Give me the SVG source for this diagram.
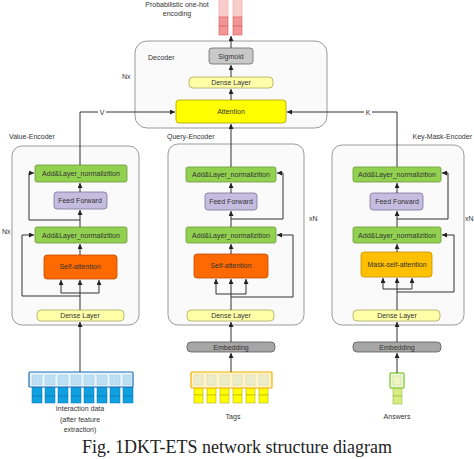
<svg xmlns="http://www.w3.org/2000/svg" width="474" height="459" viewBox="0 0 474 459">
<defs>
<marker id="ah" viewBox="0 0 10 10" refX="10" refY="5" markerWidth="5" markerHeight="5" orient="auto" markerUnits="userSpaceOnUse"><path d="M0,0 L10,5 L0,10 z" fill="#222"/></marker>
<style>
text{font-family:"Liberation Sans",Arial,sans-serif;font-size:7px;fill:#333}
.c{text-anchor:middle}
.enc{fill:#fafafa;stroke:#9a9a9a;stroke-width:1}
.add{fill:#92d050;stroke:#6a9a3a;stroke-width:0.8}
.ff{fill:#c5bde0;stroke:#7a7399;stroke-width:0.8}
.sa{fill:#ff6a00;stroke:#c04a00;stroke-width:0.8}
.msa{fill:#ffc000;stroke:#c89000;stroke-width:0.8}
.dl{fill:#ffffa8;stroke:#a8a860;stroke-width:0.8}
.emb{fill:#a6a6a6;stroke:#5a5a5a;stroke-width:0.8}
.ln{fill:none;stroke:#333;stroke-width:1}
.ar{fill:none;stroke:#333;stroke-width:1;marker-end:url(#ah)}
</style>
</defs>
<rect width="474" height="459" fill="#fff"/>

<g id="output">
<text class="c" x="177" y="7">Probabilistic one-hot</text>
<text class="c" x="177" y="16">encoding</text>
<rect x="219" y="-2" width="9" height="19" fill="#f9cccc" stroke="#f0a0a0" stroke-width="0.6"/>
<rect x="233" y="-2" width="9" height="19" fill="#f9cccc" stroke="#f0a0a0" stroke-width="0.6"/>
<rect x="219" y="17" width="9" height="9" fill="#f19595" stroke="#d86060" stroke-width="0.6"/>
<rect x="219" y="26" width="9" height="9" fill="#f19595" stroke="#d86060" stroke-width="0.6"/>
<rect x="233" y="17" width="9" height="9" fill="#f19595" stroke="#d86060" stroke-width="0.6"/>
<rect x="233" y="26" width="9" height="9" fill="#f19595" stroke="#d86060" stroke-width="0.6"/>
</g>

<g id="decoder">
<rect class="enc" x="135" y="41" width="192" height="87" rx="12"/>
<text x="148" y="60">Decoder</text>
<text x="122" y="79">Nx</text>
<g id="sigmoid"><rect x="209" y="48" width="44" height="16" rx="3" fill="#c8c8c8" stroke="#6a6a6a" stroke-width="0.8"/><text class="c" x="231" y="59">Sigmoid</text></g>
<g id="dec-dense"><rect class="dl" x="189" y="77" width="84" height="11" rx="4"/><text class="c" x="231" y="85">Dense Layer</text></g>
<g id="attention"><rect x="176" y="100" width="110" height="23" rx="3" fill="#ffff00" stroke="#b0a000" stroke-width="0.8"/><text class="c" x="231" y="114">Attention</text></g>
</g>

<g id="value-encoder">
<text x="9" y="139">Value-Encoder</text>
<rect class="enc" x="12" y="146" width="127" height="179" rx="10"/>
<text x="2" y="234">Nx</text>
<g id="v-add1"><rect class="add" x="35" y="165" width="92" height="17" rx="2"/><text class="c" x="81" y="176">Add&amp;Layer_normalizition</text></g>
<g id="v-ff"><rect class="ff" x="54" y="192" width="53" height="17" rx="3"/><text class="c" x="80" y="203">Feed Forward</text></g>
<g id="v-add2"><rect class="add" x="35" y="227" width="92" height="16" rx="2"/><text class="c" x="81" y="238">Add&amp;Layer_normalizition</text></g>
<g id="v-sa"><rect class="sa" x="44" y="255" width="73" height="24" rx="3"/><text class="c" x="80" y="269">Self-attention</text></g>
<g id="v-dense"><rect class="dl" x="37" y="310" width="87" height="11" rx="4"/><text class="c" x="80" y="318">Dense Layer</text></g>
</g>

<g id="query-encoder">
<text x="167" y="139">Query-Encoder</text>
<rect class="enc" x="168" y="144" width="136" height="181" rx="10"/>
<text x="309" y="221">xN</text>
<g id="q-add1"><rect class="add" x="186" y="167" width="90" height="15" rx="2"/><text class="c" x="231" y="177">Add&amp;Layer_normalizition</text></g>
<g id="q-ff"><rect class="ff" x="205" y="193" width="52" height="17" rx="3"/><text class="c" x="231" y="204">Feed Forward</text></g>
<g id="q-add2"><rect class="add" x="186" y="227" width="90" height="16" rx="2"/><text class="c" x="231" y="238">Add&amp;Layer_normalizition</text></g>
<g id="q-sa"><rect class="sa" x="194" y="254" width="74" height="24" rx="3"/><text class="c" x="231" y="268">Self-attention</text></g>
<g id="q-dense"><rect class="dl" x="187" y="310" width="87" height="11" rx="4"/><text class="c" x="231" y="318">Dense Layer</text></g>
</g>

<g id="key-encoder">
<text x="472" y="139" style="text-anchor:end">Key-Mask-Encoder</text>
<rect class="enc" x="332" y="145" width="132" height="180" rx="10"/>
<text x="465" y="221">xN</text>
<g id="k-add1"><rect class="add" x="353" y="167" width="88" height="15" rx="2"/><text class="c" x="397" y="177">Add&amp;Layer_normalizition</text></g>
<g id="k-ff"><rect class="ff" x="370" y="193" width="53" height="17" rx="3"/><text class="c" x="397" y="204">Feed Forward</text></g>
<g id="k-add2"><rect class="add" x="353" y="227" width="88" height="16" rx="2"/><text class="c" x="397" y="238">Add&amp;Layer_normalizition</text></g>
<g id="k-msa"><rect class="msa" x="361" y="252" width="71" height="25" rx="3"/><text class="c" x="397" y="267">Mask-self-attention</text></g>
<g id="k-dense"><rect class="dl" x="353" y="310" width="87" height="11" rx="4"/><text class="c" x="397" y="318">Dense Layer</text></g>
</g>

<g id="q-embedding"><rect class="emb" x="187" y="342" width="88" height="10" rx="4"/><text class="c" x="231" y="350">Embedding</text></g>
<g id="k-embedding"><rect class="emb" x="353" y="342" width="88" height="10" rx="4"/><text class="c" x="397" y="350">Embedding</text></g>

<g id="interaction-data">
<g fill="#0fa0e0" stroke="#0a70b0" stroke-width="0.5">
<rect x="32" y="387" width="10" height="9"/><rect x="45" y="387" width="10" height="9"/><rect x="58" y="387" width="10" height="9"/><rect x="71" y="387" width="10" height="9"/><rect x="84" y="387" width="10" height="9"/><rect x="97" y="387" width="10" height="9"/><rect x="110" y="387" width="10" height="9"/><rect x="123" y="387" width="10" height="9"/>
<rect x="32" y="396" width="10" height="7"/><rect x="45" y="396" width="10" height="7"/><rect x="58" y="396" width="10" height="7"/><rect x="71" y="396" width="10" height="7"/><rect x="84" y="396" width="10" height="7"/><rect x="97" y="396" width="10" height="7"/><rect x="110" y="396" width="10" height="7"/><rect x="123" y="396" width="10" height="7"/>
</g>
<rect x="29" y="372" width="104" height="15" fill="#e6f3fb" stroke="#1f6fb5" stroke-width="1.2" rx="1"/>
<g fill="#bcdff3" stroke="#9ccbe8" stroke-width="0.4">
<rect x="32" y="375" width="10" height="10"/><rect x="45" y="375" width="10" height="10"/><rect x="58" y="375" width="10" height="10"/><rect x="71" y="375" width="10" height="10"/><rect x="84" y="375" width="10" height="10"/><rect x="97" y="375" width="10" height="10"/><rect x="110" y="375" width="10" height="10"/><rect x="123" y="375" width="8" height="10"/>
</g>
<text class="c" x="80" y="411">Interaction data</text>
<text class="c" x="80" y="422">(after feature</text>
<text class="c" x="80" y="432">extraction)</text>
</g>

<g id="tags">
<g fill="#ffff00" stroke="#a8a000" stroke-width="0.5">
<rect x="194" y="388" width="9" height="7"/><rect x="207" y="388" width="9" height="7"/><rect x="220" y="388" width="9" height="7"/><rect x="233" y="388" width="9" height="7"/><rect x="246" y="388" width="9" height="7"/><rect x="259" y="388" width="9" height="7"/>
<rect x="194" y="395" width="9" height="8"/><rect x="207" y="395" width="9" height="8"/><rect x="220" y="395" width="9" height="8"/><rect x="233" y="395" width="9" height="8"/><rect x="246" y="395" width="9" height="8"/><rect x="259" y="395" width="9" height="8"/>
</g>
<rect x="191" y="372" width="81" height="16" fill="#fff3c8" stroke="#f5b000" stroke-width="1.2" rx="1"/>
<g fill="#ececc8" stroke="#d0d0a0" stroke-width="0.4">
<rect x="194" y="375" width="9" height="10"/><rect x="207" y="375" width="9" height="10"/><rect x="220" y="375" width="9" height="10"/><rect x="233" y="375" width="9" height="10"/><rect x="246" y="375" width="9" height="10"/><rect x="259" y="375" width="9" height="10"/>
</g>
<text class="c" x="233" y="419">Tags</text>
</g>

<g id="answers">
<rect x="393" y="388" width="9" height="8" fill="#d8ec80" stroke="#8ab040" stroke-width="0.5"/>
<rect x="393" y="396" width="9" height="8" fill="#d8ec80" stroke="#8ab040" stroke-width="0.5"/>
<rect x="390" y="373" width="14" height="15" fill="#eef7d8" stroke="#92d050" stroke-width="1.5" rx="1"/>
<rect x="393" y="376" width="8" height="9" fill="#f0f4c0" stroke="#c0d090" stroke-width="0.4"/>
<text class="c" x="397" y="419">Answers</text>
</g>

<g id="connectors">
<path class="ar" d="M231,100 V89"/>
<path class="ar" d="M231,77 V65"/>
<path class="ar" d="M231,48 V36"/>
<!-- value -->
<path class="ar" d="M80,372 V322"/>
<path class="ar" d="M80,310 V280"/>
<path class="ar" d="M80,293 H61 V280"/>
<path class="ar" d="M80,293 H99 V280"/>
<path class="ar" d="M80,296 H22 V235 H34"/>
<path class="ar" d="M80,255 V244"/>
<path class="ar" d="M80,227 V210"/>
<path class="ar" d="M80,220 H29 V173 H34"/>
<path class="ar" d="M80,192 V183"/>
<path class="ar" d="M80,165 V112 H175"/>
<rect x="98" y="108" width="8" height="8" fill="#fff"/>
<text class="c" x="102" y="115">V</text>
<!-- query -->
<path class="ar" d="M231,372 V353"/>
<path class="ar" d="M231,342 V322"/>
<path class="ar" d="M231,310 V279"/>
<path class="ar" d="M231,294 H216 V279"/>
<path class="ar" d="M231,294 H246 V279"/>
<path class="ar" d="M231,297 H293 V235 H277"/>
<path class="ar" d="M231,254 V244"/>
<path class="ar" d="M231,227 V211"/>
<path class="ar" d="M231,219 H283 V173 H277"/>
<path class="ar" d="M231,193 V183"/>
<path class="ar" d="M231,167 V124"/>
<!-- key -->
<path class="ar" d="M397,373 V353"/>
<path class="ar" d="M397,342 V322"/>
<path class="ar" d="M397,310 V278"/>
<path class="ar" d="M397,289 H383 V278"/>
<path class="ar" d="M397,289 H412 V278"/>
<path class="ar" d="M397,292 H454 V235 H442"/>
<path class="ar" d="M397,252 V244"/>
<path class="ar" d="M397,227 V211"/>
<path class="ar" d="M397,219 H448 V173 H442"/>
<path class="ar" d="M397,193 V183"/>
<path class="ar" d="M397,167 V112 H287"/>
<rect x="364" y="108" width="8" height="8" fill="#fff"/>
<text class="c" x="368" y="115">K</text>
</g>

<text x="237" y="453" style="font-family:'Liberation Serif','Times New Roman',serif;font-size:18px;text-anchor:middle;fill:#222">Fig. 1DKT-ETS network structure diagram</text>
</svg>
